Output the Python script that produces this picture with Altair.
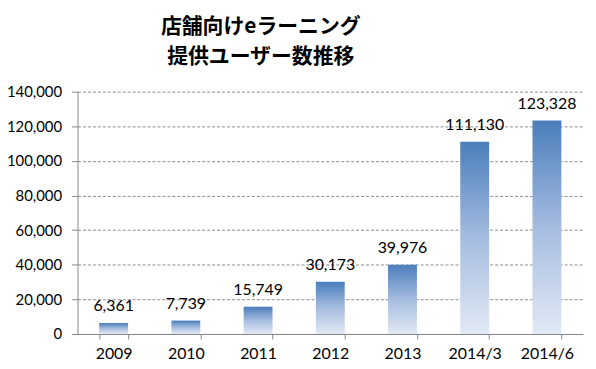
import altair as alt
import pandas as pd

categories = ["2009", "2010", "2011", "2012", "2013", "2014/3", "2014/6"]
users = [6361, 7739, 15749, 30173, 39976, 111130, 123328]
y_ticks = [0, 20000, 40000, 60000, 80000, 100000, 120000, 140000]
title_lines = ["店舗向けeラーニング", "提供ユーザー数推移"]

df = pd.DataFrame({"period": categories, "users": users})

FONT = "Lato"

gradient = alt.Gradient(
    gradient="linear",
    x1=0, y1=0, x2=0, y2=1,
    stops=[
        alt.GradientStop(color="#4a7ebb", offset=0),
        alt.GradientStop(color="#a5bce0", offset=0.5),
        alt.GradientStop(color="#e2e9f5", offset=1),
    ],
)

x = alt.X(
    "period:N",
    sort=categories,
    title=None,
    scale=alt.Scale(paddingInner=0.6, paddingOuter=0.3),
    axis=alt.Axis(
        labelAngle=0,
        labelFont=FONT,
        labelFontSize=16,
        labelColor="#000000",
        labelPadding=7,
        tickBand="extent",
        tickSize=5,
        tickColor="#868686",
        domainColor="#868686",
        grid=False,
    ),
)

y = alt.Y(
    "users:Q",
    title=None,
    scale=alt.Scale(domain=[0, 140000], nice=False),
    axis=alt.Axis(
        values=y_ticks,
        format=",d",
        labelFont=FONT,
        labelFontSize=15,
        labelColor="#000000",
        labelPadding=10,
        labelOverlap=False,
        labelFlush=False,
        tickSize=6,
        tickColor="#868686",
        domainColor="#868686",
        gridColor="#8c8c8c",
        gridDash=[3, 2],
        gridWidth=1,
    ),
)

bars = alt.Chart(df).mark_bar(color=gradient).encode(x=x, y=y)

labels = alt.Chart(df).mark_text(
    font=FONT, fontSize=16, color="#000000", baseline="alphabetic", dy=-12
).encode(x=x, y=y, text=alt.Text("users:Q", format=",d"))

chart = (
    alt.layer(bars, labels)
    .properties(
        width=509,
        height=244,
        title=alt.TitleParams(
            text=title_lines,
            font="Noto Sans CJK JP",
            fontSize=21,
            fontWeight="bold",
            lineHeight=30,
            color="#000000",
            anchor="middle",
            dx=-70,
            offset=18,
        ),
        autosize=alt.AutoSizeParams(type="none"),
        padding={"left": 70, "top": 83, "right": 5, "bottom": 30},
    )
    .configure_view(stroke=None)
)

chart.save("out.html", embed_options={"renderer": "svg", "actions": False})
